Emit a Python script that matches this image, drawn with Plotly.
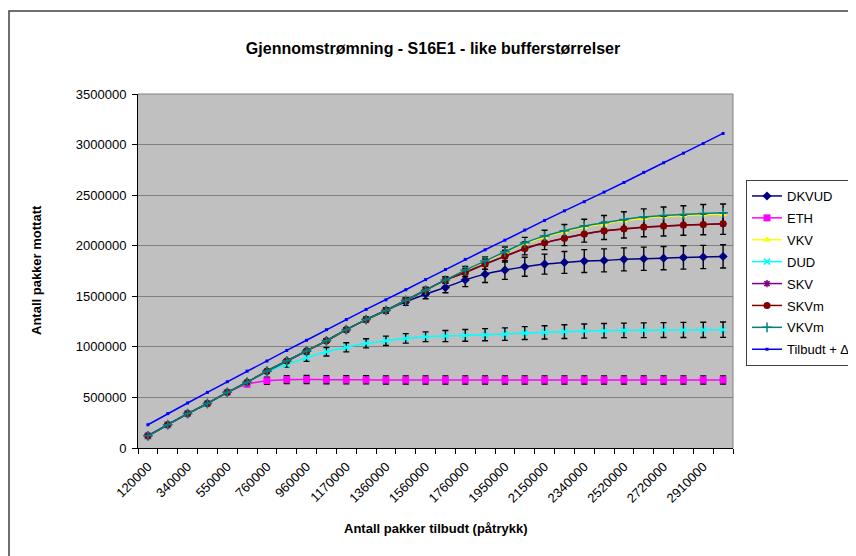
import plotly.graph_objects as go

# Categories (offered packets)
offered = [120000, 230000, 340000, 440000, 550000, 650000, 760000, 860000, 960000, 1060000,
           1170000, 1270000, 1360000, 1460000, 1560000, 1660000, 1760000, 1860000, 1950000, 2050000,
           2150000, 2250000, 2340000, 2430000, 2520000, 2620000, 2720000, 2810000, 2910000, 3010000]
categories = [str(v) for v in offered]
labeled = ["120000", "340000", "550000", "760000", "960000", "1170000", "1360000", "1560000",
           "1760000", "1950000", "2150000", "2340000", "2520000", "2720000", "2910000"]

dkvud = [120000, 230000, 340000, 440000, 550000, 650000, 760000, 860000, 960000, 1060000,
         1170000, 1270000, 1360000, 1445000, 1520000, 1588000, 1662000, 1719000, 1759000, 1792000,
         1818000, 1835000, 1848000, 1855000, 1865000, 1871000, 1877000, 1884000, 1888000, 1894000]
dkvud_err = [5000, 5000, 5000, 5000, 6000, 6000, 8000, 10000, 12000, 15000,
             18000, 22000, 28000, 35000, 45000, 53000, 66000, 82000, 92000, 94000,
             99000, 108000, 113000, 114000, 114000, 115000, 115000, 115000, 115000, 115000]

eth = [120000, 230000, 340000, 440000, 550000, 630000, 665000, 676000, 677000, 675000,
       674000, 674000, 673000, 673000, 673000, 673000, 673000, 673000, 673000, 673000,
       673000, 673000, 673000, 673000, 673000, 673000, 673000, 673000, 673000, 673000]
eth_err = [5000, 5000, 5000, 5000, 8000, 20000, 35000, 40000, 40000, 40000,
           40000, 40000, 40000, 40000, 40000, 40000, 40000, 40000, 40000, 40000,
           40000, 40000, 40000, 40000, 40000, 40000, 40000, 40000, 40000, 40000]

vkv = [120000, 230000, 340000, 440000, 550000, 650000, 760000, 860000, 960000, 1060000,
       1170000, 1270000, 1360000, 1460000, 1560000, 1660000, 1757000, 1845000, 1935000, 2022000,
       2087000, 2138000, 2184000, 2215000, 2248000, 2272000, 2288000, 2298000, 2308000, 2313000]
vkv_err = [5000, 5000, 5000, 5000, 6000, 6000, 8000, 10000, 12000, 15000,
           18000, 20000, 22000, 25000, 28000, 32000, 38000, 45000, 52000, 60000,
           66000, 72000, 78000, 83000, 88000, 92000, 95000, 97000, 99000, 100000]

dud = [120000, 230000, 340000, 440000, 550000, 650000, 755000, 825000, 892000, 952000,
       995000, 1035000, 1060000, 1084000, 1100000, 1107000, 1113000, 1120000, 1126000, 1136000,
       1143000, 1150000, 1156000, 1160000, 1163000, 1164000, 1166000, 1167000, 1168000, 1170000]
dud_err = [5000, 5000, 5000, 5000, 6000, 8000, 15000, 25000, 35000, 42000,
           45000, 45000, 46000, 47000, 48000, 55000, 58000, 60000, 62000, 64000,
           66000, 68000, 70000, 71000, 72000, 73000, 74000, 75000, 76000, 76000]

skv = [120000, 230000, 340000, 440000, 550000, 650000, 760000, 860000, 960000, 1060000,
       1170000, 1270000, 1360000, 1460000, 1560000, 1662000, 1735000, 1818000, 1895000, 1970000,
       2027000, 2073000, 2113000, 2145000, 2165000, 2182000, 2193000, 2203000, 2209000, 2216000]

skvm = [120000, 230000, 340000, 440000, 550000, 650000, 760000, 860000, 960000, 1060000,
        1170000, 1270000, 1360000, 1460000, 1560000, 1662000, 1735000, 1818000, 1897000, 1973000,
        2029000, 2075000, 2115000, 2147000, 2167000, 2184000, 2194000, 2204000, 2210000, 2217000]
skvm_err = [5000, 5000, 5000, 5000, 6000, 6000, 8000, 10000, 12000, 15000,
            18000, 20000, 22000, 25000, 28000, 32000, 40000, 50000, 58000, 64000,
            68000, 74000, 80000, 85000, 90000, 95000, 98000, 100000, 102000, 105000]

vkvm = [120000, 230000, 340000, 440000, 550000, 650000, 760000, 860000, 960000, 1060000,
        1170000, 1270000, 1360000, 1460000, 1560000, 1660000, 1759000, 1848000, 1940000, 2029000,
        2095000, 2147000, 2194000, 2226000, 2260000, 2283000, 2299000, 2309000, 2319000, 2325000]

tilbudt = [230000, 340000, 445000, 550000, 655000, 760000, 860000, 965000, 1065000, 1170000,
           1270000, 1370000, 1465000, 1565000, 1665000, 1765000, 1865000, 1960000, 2055000, 2155000,
           2250000, 2345000, 2435000, 2530000, 2625000, 2725000, 2820000, 2915000, 3010000, 3110000]

FONT = "Liberation Sans, Arial, sans-serif"

def err(a):
    return dict(type="data", array=a, visible=True, color="black", thickness=1.4, width=3)

fig = go.Figure()

def add(name, y, color, symbol, size, e=None, mline=None, smooth=True):
    marker = dict(symbol=symbol, size=size, color=color)
    if mline is not None:
        marker["line"] = dict(color=color, width=mline)
    fig.add_trace(go.Scatter(
        x=categories, y=y, name=name, mode="lines+markers",
        line=dict(color=color, width=1.5, shape="spline" if smooth else "linear", smoothing=0.5),
        marker=marker, error_y=err(e) if e is not None else None,
        legendgroup=name))

add("DKVUD", dkvud, "#000080", "diamond", 7, dkvud_err)
add("ETH", eth, "#FF00FF", "square", 7, eth_err)
add("VKV", vkv, "#FFFF00", "triangle-up", 7, vkv_err)
add("DUD", dud, "#00FFFF", "x-thin", 6, dud_err, mline=1.5)
add("SKV", skv, "#800080", "asterisk", 6, None, mline=1.5)
add("SKVm", skvm, "#800000", "circle", 7, skvm_err)
add("VKVm", vkvm, "#008080", "cross-thin", 7, None, mline=1.5)
add("Tilbudt + Δ", tilbudt, "#0000FF", "square", 3, None, smooth=False)

ticktext = [c if c in labeled else "" for c in categories]

# The page body adds an 8px margin; figure pixel coords = screen coords - 8.
# Plot area (figure coords): left 130, right 725, top 86, bottom 440
W, H = 848, 548
L, R, T, B = 130, 725, 86, 440

def px(xp):
    return (xp - L) / float(R - L)

def py(yp):
    return (B - yp) / float(B - T)

fig.update_layout(
    width=W, height=H,
    margin=dict(l=L, r=W - R, t=T, b=H - B, autoexpand=False),
    paper_bgcolor="white", plot_bgcolor="#C0C0C0",
    font=dict(family=FONT, size=13, color="black"),
    showlegend=True,
    legend=dict(x=px(738), y=py(172), xanchor="left", yanchor="top",
                bordercolor="#404040", borderwidth=1, bgcolor="white",
                font=dict(family=FONT, size=13), tracegroupgap=2,
                itemwidth=30),
    xaxis=dict(type="category", categoryorder="array", categoryarray=categories,
               range=[-0.5, 29.5], tickmode="array", tickvals=categories, ticktext=ticktext,
               tickson="boundaries", ticks="outside", ticklen=5, tickcolor="black",
               ticklabelstandoff=5,
               tickangle=-45, showgrid=False, showline=True, linecolor="black", linewidth=1,
               zeroline=False, automargin=False, tickfont=dict(family=FONT, size=13)),
    yaxis=dict(range=[0, 3500000], tickmode="array",
               tickvals=[0, 500000, 1000000, 1500000, 2000000, 2500000, 3000000, 3500000],
               ticktext=["0", "500000", "1000000", "1500000", "2000000", "2500000", "3000000", "3500000"],
               ticks="outside", ticklen=5, tickcolor="black", showgrid=True, ticklabelstandoff=3,
               gridcolor="#808080", gridwidth=1, showline=True, linecolor="black", linewidth=1,
               zeroline=False, automargin=False, tickfont=dict(family=FONT, size=13)),
    title=dict(text="<b>Gjennomstrømning - S16E1 - like bufferstørrelser</b>",
               x=425 / W, xanchor="center", y=1 - 40 / H, yanchor="middle",
               font=dict(family=FONT, size=16)),
    annotations=[
        dict(text="<b>Antall pakker mottatt</b>", xref="paper", yref="paper",
             x=px(28), y=py(262), textangle=-90, showarrow=False,
             xanchor="center", yanchor="middle", font=dict(family=FONT, size=13)),
        dict(text="<b>Antall pakker tilbudt (påtrykk)</b>", xref="paper", yref="paper",
             x=px(427), y=py(520), showarrow=False,
             xanchor="center", yanchor="middle", font=dict(family=FONT, size=13)),
    ],
    shapes=[
        dict(type="line", xref="paper", yref="paper", x0=0, x1=1, y0=1, y1=1,
             line=dict(color="#808080", width=1)),
        dict(type="line", xref="paper", yref="paper", x0=1, x1=1, y0=0, y1=1,
             line=dict(color="#808080", width=1)),
        dict(type="rect", xref="paper", yref="paper", x0=px(1), x1=px(870), y0=py(570), y1=py(3),
             line=dict(color="#404040", width=1.5)),
    ],
)

fig.write_html("out.html")
